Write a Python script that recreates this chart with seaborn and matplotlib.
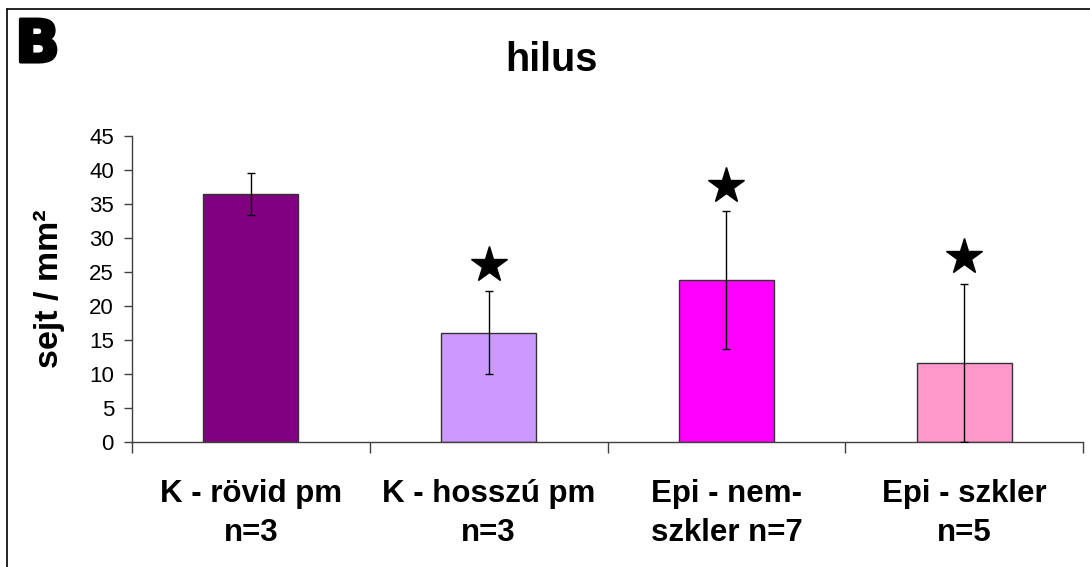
import numpy as np
import pandas as pd
import matplotlib.pyplot as plt
import seaborn as sns
from matplotlib.lines import Line2D
import matplotlib.patheffects as pe

# data
categories = ['K - rövid pm\nn=3', 'K - hosszú pm\nn=3', 'Epi - nem-\nszkler n=7', 'Epi - szkler\nn=5']
means = [36.5, 16.1, 23.85, 11.6]
sd = [3.05, 6.1, 10.15, 11.6]
star_y = [np.nan, 26.0, 37.6, 27.25]
bar_colors = ['#800080', '#CC99FF', '#FF00FF', '#FF99CC']
yticks = [0, 5, 10, 15, 20, 25, 30, 35, 40, 45]

sns.set_style('white')
plt.rcParams['font.family'] = ['Liberation Sans', 'DejaVu Sans']
plt.rcParams['text.color'] = 'black'
plt.rcParams['axes.labelcolor'] = 'black'
plt.rcParams['xtick.color'] = 'black'
plt.rcParams['ytick.color'] = 'black'

df = pd.DataFrame({'group': categories, 'value': means})

fig = plt.figure(figsize=(10.9, 5.67), dpi=100)
ax = fig.add_axes([0.1211, 0.2205, 0.8725, 0.5396])

sns.barplot(data=df, x='group', y='value', hue='group', palette=bar_colors,
            legend=False, width=0.4, edgecolor='#333333', linewidth=1.0,
            saturation=1, ax=ax)

xpos = np.arange(len(categories))
ax.errorbar(xpos, means, yerr=sd, fmt='none', ecolor='black',
            elinewidth=1.0, capsize=3.2, capthick=1.0, zorder=5)
ax.plot(xpos, star_y, linestyle='none', marker='*', markersize=27,
        color='black', zorder=6)

ax.set_xlim(-0.5, len(categories) - 0.5)
ax.set_ylim(0, 45)
ax.set_yticks(yticks)
ax.tick_params(axis='y', direction='out', length=6, width=1, color='#404040',
               labelsize=16, pad=7, left=True)
ax.set_xticks(xpos)
ax.set_xticklabels(categories, fontsize=22.5, fontweight='bold', linespacing=1.38)
ax.tick_params(axis='x', which='major', length=0, pad=27)
ax.set_xticks(np.arange(-0.5, len(categories)), minor=True)
ax.tick_params(axis='x', which='minor', direction='out', length=8, width=1,
               color='#404040', bottom=True)

for side in ['top', 'right']:
    ax.spines[side].set_visible(False)
for side in ['left', 'bottom']:
    ax.spines[side].set_color('#404040')
    ax.spines[side].set_linewidth(1.0)

ax.set_xlabel('')
ax.set_ylabel('sejt / mm²', fontsize=24.5, fontweight='bold')
ax.yaxis.set_label_coords(-0.07, 0.5)

fig.text(0.506, 0.875, 'hilus', fontsize=28.5, fontweight='bold',
         ha='center', va='baseline')

# panel letter
fig.text(0.014, 0.891, 'B', fontsize=42, fontweight='heavy', color='black',
         family=['DejaVu Sans'], ha='left', va='baseline',
         path_effects=[pe.withStroke(linewidth=2.5, foreground='black')])

# frame around the panel (left and top edges visible)
fig.add_artist(Line2D([0.0064, 0.0064], [0.0, 0.984], color='black',
                      linewidth=1.2, transform=fig.transFigure))
fig.add_artist(Line2D([0.0064, 1.0], [0.984, 0.984], color='black',
                      linewidth=1.2, transform=fig.transFigure))

plt.savefig('out.png', dpi=100, facecolor='white')
plt.close(fig)
